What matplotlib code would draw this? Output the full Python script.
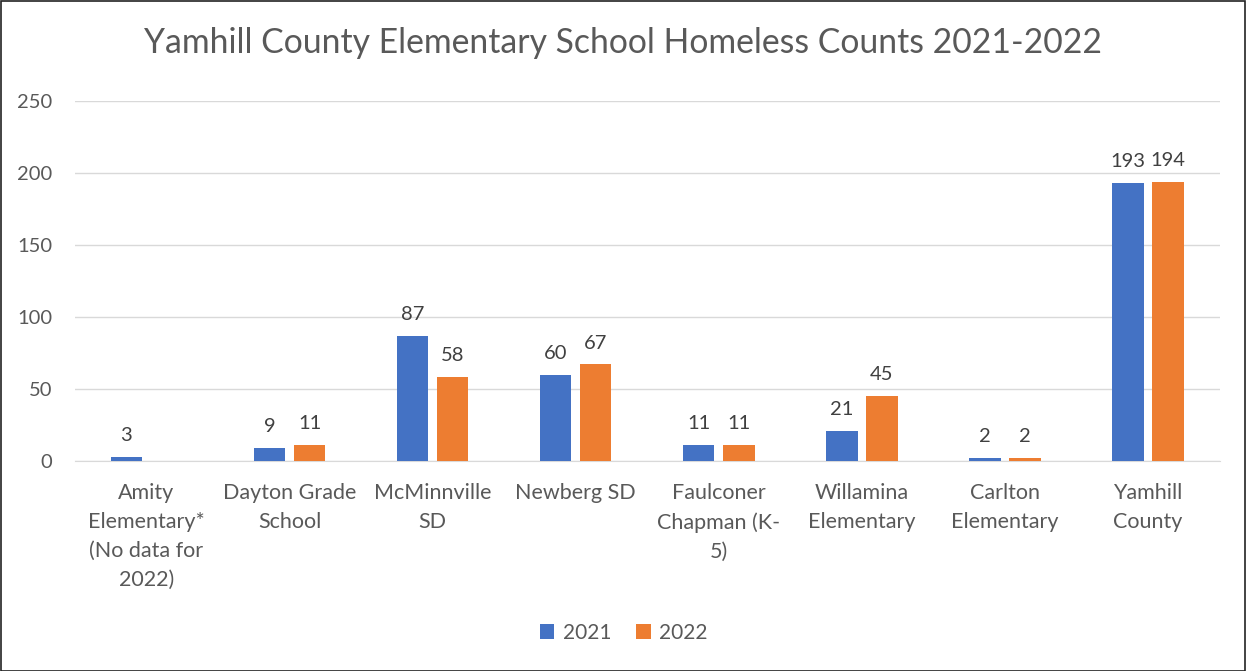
import matplotlib
matplotlib.use("Agg")
import matplotlib.pyplot as plt
import numpy as np
from matplotlib.patches import Rectangle

plt.rcParams['font.family'] = ['Lato', 'DejaVu Sans']

schools = ["Amity\nElementary*\n(No data for\n2022)", "Dayton Grade\nSchool", "McMinnville\nSD",
           "Newberg SD", "Faulconer\nChapman (K-\n5)", "Willamina\nElementary",
           "Carlton\nElementary", "Yamhill\nCounty"]
counts_2021 = [3, 9, 87, 60, 11, 21, 2, 193]
counts_2022 = [np.nan, 11, 58, 67, 11, 45, 2, 194]

blue = '#4472C4'
orange = '#ED7D31'
txt = '#595959'

fig = plt.figure(figsize=(12.47, 6.71), dpi=100)
ax = fig.add_axes([0.06, 0.313, 0.918, 0.5365])

x = np.arange(len(schools))
w = 0.22
b1 = ax.bar(x - 0.14, counts_2021, w, color=blue, label='2021', zorder=3)
b2 = ax.bar(x + 0.14, counts_2022, w, color=orange, label='2022', zorder=3)

for bars, vals in ((b1, counts_2021), (b2, counts_2022)):
    for r, v in zip(bars, vals):
        if np.isnan(v):
            continue
        ax.text(r.get_x() + r.get_width() / 2, v + 9, f"{int(v)}", ha='center', va='bottom',
                fontsize=14.5, color='#404040')

ax.set_xlim(-0.5, len(schools) - 0.5)
ax.set_ylim(0, 250)
ax.set_yticks(range(0, 251, 50))
ax.yaxis.grid(True, color='#D9D9D9', linewidth=1, zorder=0)
ax.tick_params(axis='y', length=0, labelsize=14.5, labelcolor=txt, pad=16)
ax.tick_params(axis='x', length=0, labelsize=15.5, labelcolor=txt, pad=16)
ax.set_xticks(x)
ax.set_xticklabels(schools, linespacing=1.55)
for s in ('top', 'right', 'left'):
    ax.spines[s].set_visible(False)
ax.spines['bottom'].set_color('#D9D9D9')

fig.suptitle("Yamhill County Elementary School Homeless Counts 2021-2022", y=0.96,
             fontsize=24.3, color=txt)

fig.legend(loc='center', bbox_to_anchor=(0.5, 0.057), ncol=2, frameon=False,
           fontsize=15, labelcolor=txt, handlelength=0.7, handleheight=0.7,
           handletextpad=0.4, columnspacing=1.2)

fig.patches.append(Rectangle((0.001, 0.0), 0.997, 0.998, transform=fig.transFigure,
                             fill=False, edgecolor='#222222', linewidth=1.2))

fig.savefig('out.png', dpi=100)
